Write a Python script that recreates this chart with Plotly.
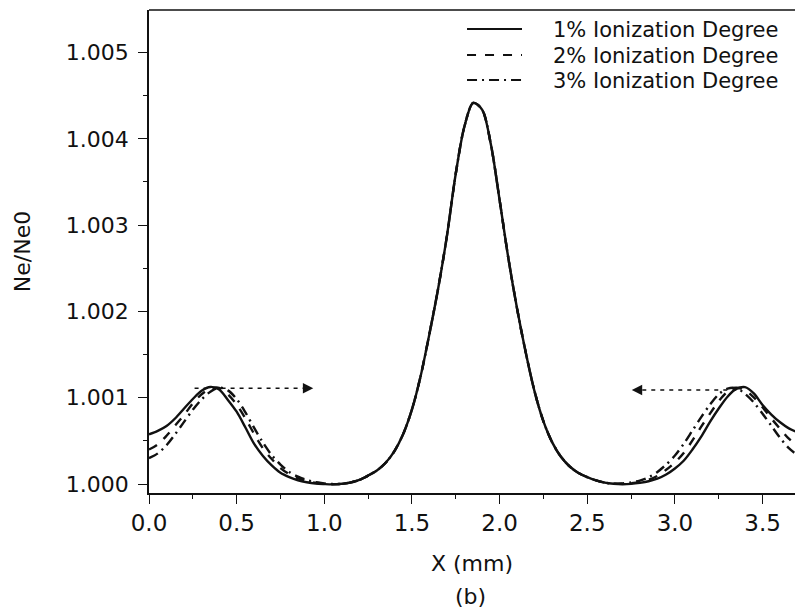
import plotly.graph_objects as go

# ---- data ----
x_mm = [round(i * 0.05, 2) for i in range(75)]  # 0.00 .. 3.70

# left side-peak regions (0.00 .. 1.10)
left_1 = [1.000575, 1.000615, 1.000672, 1.000762, 1.000875, 1.000985, 1.001081, 1.001125,
          1.001095, 1.000975, 1.000838, 1.000655, 1.000465, 1.000325, 1.000215, 1.000130,
          1.000080, 1.000043, 1.000020, 1.000005, 0.999999, 0.999996, 1.000002]
left_2 = [1.000400, 1.000460, 1.000560, 1.000680, 1.000800, 1.000935, 1.001040, 1.001105,
          1.001115, 1.001040, 1.000920, 1.000760, 1.000580, 1.000414, 1.000290, 1.000185,
          1.000115, 1.000065, 1.000035, 1.000015, 1.000004, 0.999998, 1.000002]
left_3 = [1.000300, 1.000355, 1.000450, 1.000580, 1.000720, 1.000860, 1.000980, 1.001070,
          1.001118, 1.001085, 1.000985, 1.000830, 1.000650, 1.000480, 1.000335, 1.000225,
          1.000140, 1.000085, 1.000048, 1.000022, 1.000008, 1.000001, 1.000002]
# central peak, identical for all ionization degrees (1.15 .. 2.60)
center = [1.000018, 1.000048, 1.000098, 1.000157, 1.000246, 1.000381, 1.000579, 1.000864,
          1.001255, 1.001744, 1.002272, 1.002882, 1.003598, 1.004149, 1.004416, 1.004339,
          1.003937, 1.003290, 1.002615, 1.002029, 1.001516, 1.001068, 1.000726, 1.000483,
          1.000315, 1.000203, 1.000128, 1.000079, 1.000042, 1.000016]
# right side-peak regions (2.65 .. 3.70)
right_1 = [1.000003, 0.999998, 1.000002, 1.000014, 1.000032, 1.000062, 1.000110, 1.000180,
           1.000270, 1.000400, 1.000550, 1.000720, 1.000875, 1.001012, 1.001102, 1.001123,
           1.001050, 1.000915, 1.000805, 1.000715, 1.000645, 1.000600]
right_2 = [1.000003, 1.000003, 1.000010, 1.000025, 1.000050, 1.000095, 1.000165, 1.000250,
           1.000360, 1.000505, 1.000665, 1.000815, 1.000960, 1.001070, 1.001115, 1.001088,
           1.001005, 1.000890, 1.000760, 1.000640, 1.000525, 1.000440]
right_3 = [1.000004, 1.000007, 1.000018, 1.000040, 1.000078, 1.000140, 1.000225, 1.000330,
           1.000465, 1.000620, 1.000775, 1.000920, 1.001040, 1.001105, 1.001110, 1.001045,
           1.000945, 1.000815, 1.000675, 1.000535, 1.000415, 1.000335]

ne_1pct = left_1 + center + right_1
ne_2pct = left_2 + center + right_2
ne_3pct = left_3 + center + right_3

series_names = ["1% Ionization Degree", "2% Ionization Degree", "3% Ionization Degree"]
series_vals = [ne_1pct, ne_2pct, ne_3pct]
series_dash = ["solid", "9px,9px", "10px,5px,2px,5px"]

y_ticks = [1.000, 1.001, 1.002, 1.003, 1.004, 1.005]
y_ticktext = ["1.000", "1.001", "1.002", "1.003", "1.004", "1.005"]
x_ticks = [0.0, 0.5, 1.0, 1.5, 2.0, 2.5, 3.0, 3.5]
x_ticktext = ["0.0", "0.5", "1.0", "1.5", "2.0", "2.5", "3.0", "3.5"]

# arrows (start, end) in data units, y level
arrow_left = (0.26, 0.937, 1.00111)
arrow_right = (3.35, 2.754, 1.00109)

FONT = "DejaVu Sans"
INK = "#111111"

fig = go.Figure()
for name, vals, dash in zip(series_names, series_vals, series_dash):
    fig.add_trace(go.Scatter(
        x=x_mm, y=vals, mode="lines", name=name, showlegend=False,
        line=dict(color=INK, width=2.4, dash=dash, shape="spline", smoothing=0.9),
    ))

# manual legend (line sample + text)
leg_rows = [0.9607, 0.9068, 0.8551]
for name, dash, yy in zip(series_names, series_dash, leg_rows):
    fig.add_shape(type="line", xref="paper", yref="paper", x0=0.4923, x1=0.5774,
                  y0=yy, y1=yy, line=dict(color=INK, width=2.2, dash=dash))
    fig.add_annotation(xref="paper", yref="paper", x=0.6223, y=yy - 0.002,
                       text=name, showarrow=False, xanchor="left", yanchor="middle",
                       font=dict(family=FONT, size=21, color=INK))

# dotted arrows
for (xs, xe, yv) in (arrow_left, arrow_right):
    direction = 1 if xe > xs else -1
    fig.add_shape(type="line", xref="x", yref="y", x0=xs, x1=xe - direction * 0.03,
                  y0=yv, y1=yv, line=dict(color=INK, width=1.6, dash="4px,5px"))
    fig.add_annotation(x=xe, y=yv, ax=xe - direction * 0.06, ay=yv, axref="x", ayref="y",
                       xref="x", yref="y", text="", showarrow=True,
                       arrowhead=2, arrowsize=1.3, arrowwidth=1.6, arrowcolor=INK)

# top frame line
fig.add_shape(type="line", xref="paper", yref="paper", x0=0, x1=1, y0=1, y1=1,
              line=dict(color=INK, width=1.6))

# (b) label
fig.add_annotation(xref="paper", yref="paper", x=0.497, y=-0.2133, text="(b)",
                   showarrow=False, xanchor="center", yanchor="middle",
                   font=dict(family=FONT, size=22, color=INK))

fig.update_xaxes(
    range=[0, 3.685], tickvals=x_ticks, ticktext=x_ticktext,
    showline=True, linecolor=INK, linewidth=1.6, mirror=False,
    ticks="outside", ticklen=9, tickwidth=1.4, tickcolor=INK,
    minor=dict(ticks="outside", ticklen=4, tickwidth=1.2, tickcolor=INK, dtick=0.25, tick0=0),
    showgrid=False, zeroline=False,
    tickfont=dict(family=FONT, size=23, color=INK),
    title=dict(text="X (mm)", font=dict(family=FONT, size=22, color=INK), standoff=20),
)
fig.update_yaxes(
    range=[0.999896, 1.005493], tickvals=y_ticks, ticktext=y_ticktext,
    showline=True, linecolor=INK, linewidth=1.6, mirror=False,
    ticks="outside", ticklen=9, tickwidth=1.4, tickcolor=INK,
    minor=dict(ticks="outside", ticklen=4, tickwidth=1.2, tickcolor=INK, dtick=0.0005, tick0=1.0),
    showgrid=False, zeroline=False,
    tickfont=dict(family=FONT, size=22, color=INK),
    ticklabelstandoff=5,
    title=dict(text="Ne/Ne0", font=dict(family=FONT, size=22, color=INK), standoff=29),
)
fig.update_layout(
    width=795, height=615,
    margin=dict(l=149, r=0, t=10, b=122),
    paper_bgcolor="white", plot_bgcolor="white",
    showlegend=False,
)
fig.write_html("out.html")
